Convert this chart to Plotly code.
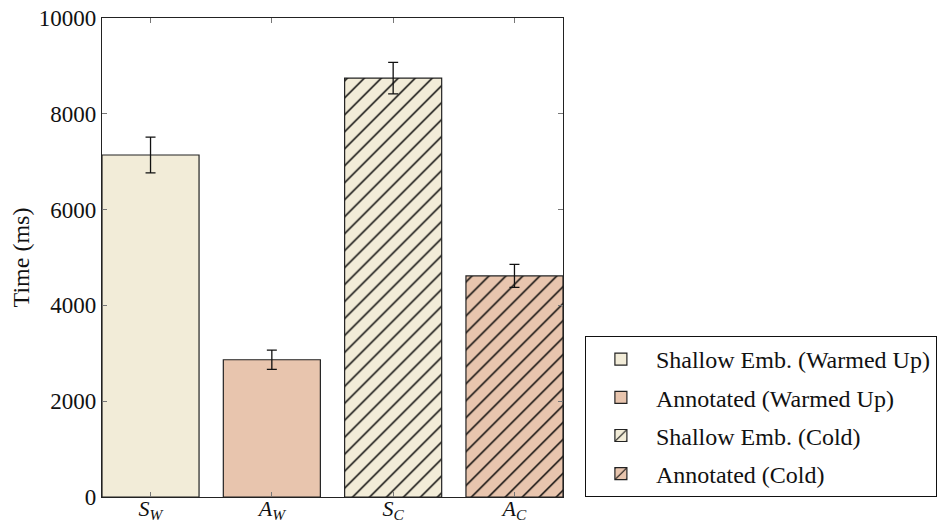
import plotly.graph_objects as go

categories = ["<i>S</i><sub><i>W</i></sub>", "<i>A</i><sub><i>W</i></sub>",
              "<i>S</i><sub><i>C</i></sub>", "<i>A</i><sub><i>C</i></sub>"]
series_names = ["Shallow Emb. (Warmed Up)", "Annotated (Warmed Up)",
                "Shallow Emb. (Cold)", "Annotated (Cold)"]
means = [7140, 2865, 8745, 4615]
errors = [375, 200, 330, 240]
y_ticks = [0, 2000, 4000, 6000, 8000, 10000]
y_tick_labels = ["0", "2000", "4000", "6000", "8000", "10000"]

cream = "#F2ECD8"
peach = "#E8C5AE"
fills = [cream, peach, cream, peach]
hatches = ["", "", "/", "/"]

FONT = "Liberation Serif, DejaVu Serif, serif"

fig = go.Figure()
for i in range(4):
    fig.add_trace(go.Bar(
        x=[i], y=[means[i]], name=series_names[i],
        width=0.8,
        marker=dict(color=fills[i], line=dict(color="#222222", width=1.2),
                    pattern=dict(shape=hatches[i], fgcolor="#000000",
                                 bgcolor=fills[i], size=12, solidity=0.12,
                                 fgopacity=1)),
        error_y=dict(type="data", array=[errors[i]], color="#111111",
                     thickness=1.3, width=5),
        legendgroup=str(i),
    ))

# The page body has an 8px margin, so the figure is sized/offset to compensate.
fig.update_layout(
    width=939, height=515,
    margin=dict(l=94, r=382, t=10, b=26),
    paper_bgcolor="white", plot_bgcolor="white",
    font=dict(family=FONT, size=23, color="#111111"),
    barmode="overlay",
    showlegend=True,
    legend=dict(x=1.0475, y=0, xanchor="left", yanchor="bottom",
                bordercolor="#111111", borderwidth=1, bgcolor="white",
                font=dict(family=FONT, size=24), tracegroupgap=4,
                itemwidth=60),
    xaxis=dict(range=[-0.4, 3.4], tickmode="array", tickvals=[0, 1, 2, 3],
               ticktext=categories, ticks="inside", ticklen=5, tickcolor="#777777",
               showline=True, linecolor="#222222", linewidth=1.2, mirror="ticks",
               showgrid=False, zeroline=False, tickfont=dict(size=22),
               ticklabeloverflow="allow", ticklabelstandoff=-9,
               automargin=False),
    yaxis=dict(range=[0, 10000], tickmode="array", tickvals=y_ticks,
               ticktext=y_tick_labels,
               ticks="inside", ticklen=5, tickcolor="#777777",
               showline=True, linecolor="#222222", linewidth=1.2, mirror="ticks",
               showgrid=False, zeroline=False, tickfont=dict(size=23),
               ticklabeloverflow="allow",
               title=dict(text="Time (ms)", font=dict(size=24), standoff=16),
               automargin=False),
)

fig.write_html("out.html")
